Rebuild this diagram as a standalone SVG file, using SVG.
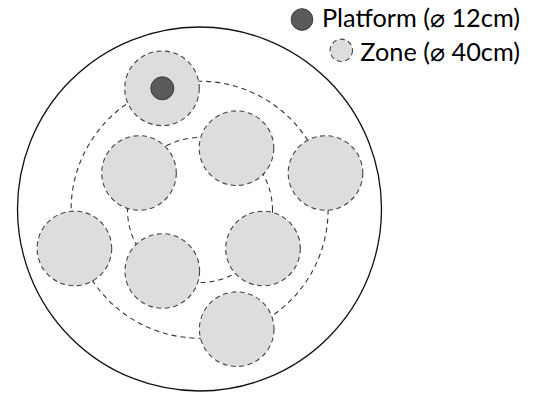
<svg xmlns="http://www.w3.org/2000/svg" width="539" height="394" viewBox="0 0 539 394">
  <style>
    .zone { fill: #dddddd; stroke: #444444; stroke-width: 1.1; stroke-dasharray: 5 3.5; }
    .platform { fill: #5a5a5a; stroke: #3a3a3a; stroke-width: 1; }
    .ring { fill: none; stroke: #333333; stroke-width: 1.1; stroke-dasharray: 5 4; }
    .label { font-family: "Lato", "Liberation Sans", sans-serif; font-size: 25.3px; fill: #000000; }
  </style>
  <rect width="539" height="394" fill="#ffffff"/>
  <g id="arena">
    <circle cx="199.5" cy="209" r="182" fill="none" stroke="#111111" stroke-width="1.3"/>
  </g>
  <g id="connectors">
    <circle class="ring" cx="199.6" cy="209.7" r="128.5"/>
    <circle class="ring" cx="200" cy="210" r="72.5"/>
  </g>
  <g id="zone1"><circle class="zone" cx="162" cy="88.3" r="37.3"/></g>
  <g id="zone2"><circle class="zone" cx="139" cy="173" r="37.3"/></g>
  <g id="zone3"><circle class="zone" cx="236.5" cy="148.2" r="37.3"/></g>
  <g id="zone4"><circle class="zone" cx="325.5" cy="173" r="37.3"/></g>
  <g id="zone5"><circle class="zone" cx="263" cy="248.5" r="37.3"/></g>
  <g id="zone6"><circle class="zone" cx="236.7" cy="329.2" r="37.3"/></g>
  <g id="zone7"><circle class="zone" cx="74.4" cy="248.4" r="37.3"/></g>
  <g id="zone8"><circle class="zone" cx="162.3" cy="271" r="37.3"/></g>
  <g id="platform"><circle class="platform" cx="162.3" cy="88.3" r="11.5"/></g>
  <g id="legend-platform">
    <circle class="platform" cx="302" cy="19.5" r="10.8"/>
    <text class="label" x="520" y="27" text-anchor="end">Platform (⌀ 12cm)</text>
  </g>
  <g id="legend-zone">
    <circle class="zone" cx="341.3" cy="50.3" r="11.2"/>
    <text class="label" x="520" y="60.5" text-anchor="end">Zone (⌀ 40cm)</text>
  </g>
</svg>
